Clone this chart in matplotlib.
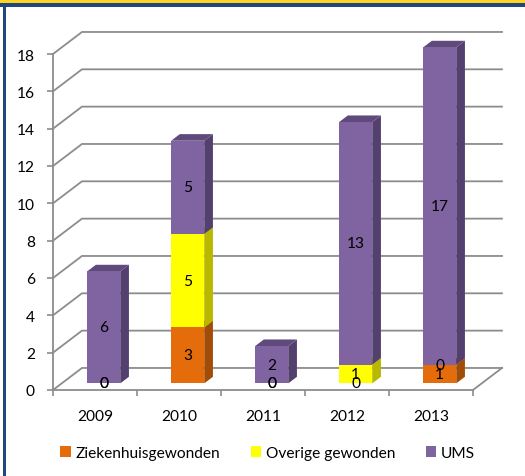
import matplotlib
matplotlib.use("Agg")
import matplotlib.pyplot as plt
from matplotlib.patches import Polygon, Patch, Rectangle

plt.rcParams["font.family"] = ["Lato", "DejaVu Sans"]

years = ["2009", "2010", "2011", "2012", "2013"]
series_names = ["Ziekenhuisgewonden", "Overige gewonden", "UMS"]
ziekenhuis = [0, 3, 0, 0, 1]
overige = [0, 5, 0, 1, 0]
ums = [6, 5, 2, 13, 17]
y_ticks = [0, 2, 4, 6, 8, 10, 12, 14, 16, 18]

# front / side / top shades per series
face_cols = ["#E46C0A", "#FFFF00", "#8064A2"]
side_cols = ["#A24D07", "#B8B800", "#54406E"]
top_cols = ["#B3560A", "#CCCC00", "#604A7B"]

# oblique depth of the floor, in data units
DX, DY = 0.345, 1.18
# bars sit between 30% and 60% of the floor depth
F0, F1 = 0.30, 0.60
HALF_W = 0.197
GRID = "#8C8C8C"
FS = 11.2

fig = plt.figure(figsize=(5.25, 4.77), dpi=100)
ax = fig.add_axes([53 / 525, 1 - 391 / 477, 420 / 525, 336 / 477])
ax.set_xlim(-0.5, 4.5)
ax.set_ylim(0, 18)

# back wall grid + left wall diagonals
for y in y_ticks:
    ax.plot([-0.5, -0.5 + DX, 4.5 + DX], [y, y + DY, y + DY],
            color=GRID, lw=1.3, clip_on=False, zorder=1)
# right edge of the floor
ax.plot([4.5, 4.5 + DX], [0, DY], color=GRID, lw=1.3, clip_on=False, zorder=1)


def draw_block(i, base, h, k):
    x0 = i - HALF_W + F0 * DX
    x1 = i + HALF_W + F0 * DX
    y0 = base + F0 * DY
    y1 = base + h + F0 * DY
    ddx = (F1 - F0) * DX
    ddy = (F1 - F0) * DY
    side = Polygon([(x1, y0), (x1 + ddx, y0 + ddy), (x1 + ddx, y1 + ddy), (x1, y1)],
                   closed=True, facecolor=side_cols[k], edgecolor="none",
                   zorder=3, clip_on=False)
    top = Polygon([(x0, y1), (x1, y1), (x1 + ddx, y1 + ddy), (x0 + ddx, y1 + ddy)],
                  closed=True, facecolor=top_cols[k], edgecolor="none",
                  zorder=3, clip_on=False)
    front = Rectangle((x0, y0), x1 - x0, y1 - y0, facecolor=face_cols[k],
                      edgecolor="none", zorder=4, clip_on=False)
    ax.add_patch(side)
    ax.add_patch(top)
    ax.add_patch(front)


series = [ziekenhuis, overige, ums]
for i in range(len(years)):
    base = 0
    for k, vals in enumerate(series):
        if vals[i] > 0:
            draw_block(i, base, vals[i], k)
        base += vals[i]

# value labels on the front faces
for i in range(len(years)):
    base = 0
    for k, vals in enumerate(series):
        ax.text(i + F0 * DX, base + vals[i] / 2 + F0 * DY, str(vals[i]),
                ha="center", va="center", fontsize=FS, color="black", zorder=6)
        base += vals[i]

for s in ["top", "right"]:
    ax.spines[s].set_visible(False)
for s in ["left", "bottom"]:
    ax.spines[s].set_color(GRID)
    ax.spines[s].set_linewidth(1.3)
    ax.spines[s].set_zorder(1)

ax.set_yticks(y_ticks)
ax.set_yticklabels([str(v) for v in y_ticks])
ax.tick_params(axis="y", length=4, width=1.2, color=GRID, pad=9, labelsize=FS)
ax.set_xticks(range(len(years)))
ax.set_xticklabels(years)
ax.set_xticks([-0.5, 0.5, 1.5, 2.5, 3.5, 4.5], minor=True)
ax.tick_params(axis="x", which="major", length=0, pad=14, labelsize=FS)
ax.tick_params(axis="x", which="minor", length=4, width=1.2, color=GRID)

handles = [Patch(facecolor=c, edgecolor="none") for c in face_cols]
fig.legend(handles, series_names, loc="center", bbox_to_anchor=(0.51, 1 - 454 / 477),
           ncol=3, frameon=False, fontsize=FS, handlelength=0.65, handleheight=0.65,
           handletextpad=0.3, columnspacing=2.0)

# header bands and frame
fig.patches.append(Rectangle((0, 1 - 3.7 / 477), 1, 3.7 / 477, transform=fig.transFigure,
                             facecolor="#FFD320", edgecolor="none"))
fig.patches.append(Rectangle((0, 1 - 8 / 477), 1, 4.3 / 477, transform=fig.transFigure,
                             facecolor="#1F497D", edgecolor="none"))
fig.patches.append(Rectangle((3.3 / 525, 0), 2.3 / 525, 1 - 8 / 477, transform=fig.transFigure,
                             facecolor="#1F497D", edgecolor="none"))

fig.savefig("out.png", dpi=100)
